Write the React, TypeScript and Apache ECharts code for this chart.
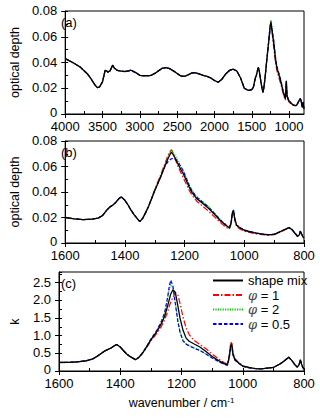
import React, { useEffect, useRef } from 'react';
import * as echarts from 'echarts';

// ---------- data ----------
const wnHigh = [4000, 3900, 3800, 3700, 3650, 3600, 3570, 3540, 3500, 3480, 3465, 3445, 3430, 3400, 3380, 3365, 3340, 3300, 3250, 3200, 3150, 3120, 3100, 3050, 3000, 2950, 2900, 2850, 2800, 2750, 2700, 2650, 2600, 2550, 2500, 2450, 2400, 2350, 2300, 2250, 2200, 2150, 2100, 2050, 2000, 1950, 1900, 1850, 1800, 1750, 1700, 1650];
const odHigh = [0.043, 0.040, 0.0365, 0.031, 0.027, 0.0225, 0.0205, 0.021, 0.025, 0.030, 0.034, 0.0335, 0.0325, 0.0335, 0.036, 0.038, 0.0355, 0.0338, 0.0333, 0.033, 0.0335, 0.034, 0.0335, 0.032, 0.030, 0.0297, 0.0297, 0.030, 0.0315, 0.0335, 0.0355, 0.036, 0.0352, 0.0335, 0.0315, 0.0295, 0.0293, 0.0305, 0.032, 0.032, 0.031, 0.030, 0.0292, 0.028, 0.026, 0.0247, 0.027, 0.031, 0.0338, 0.0348, 0.0334, 0.028];

const wnLow = [1600, 1570, 1540, 1510, 1490, 1475, 1460, 1450, 1440, 1430, 1420, 1412, 1400, 1390, 1380, 1370, 1360, 1350, 1340, 1330, 1320, 1300, 1280, 1265, 1255, 1245, 1240, 1235, 1228, 1220, 1212, 1205, 1195, 1185, 1175, 1160, 1140, 1120, 1100, 1080, 1060, 1050, 1044, 1040, 1036, 1032, 1026, 1015, 1000, 980, 960, 940, 920, 900, 880, 865, 850, 840, 830, 822, 816, 812, 808, 804, 800];

const odMix = [0.0200, 0.0190, 0.0183, 0.0187, 0.0195, 0.0215, 0.0260, 0.0283, 0.0298, 0.0320, 0.0348, 0.0362, 0.0335, 0.0300, 0.0260, 0.0225, 0.0195, 0.0168, 0.0195, 0.0240, 0.0290, 0.0410, 0.0520, 0.0610, 0.0665, 0.0712, 0.0700, 0.0680, 0.0650, 0.0610, 0.0575, 0.0545, 0.0495, 0.0440, 0.0395, 0.0350, 0.0312, 0.0272, 0.0225, 0.0175, 0.0135, 0.0118, 0.0160, 0.0235, 0.0255, 0.0190, 0.0140, 0.0120, 0.0100, 0.0088, 0.0077, 0.0070, 0.0064, 0.0068, 0.0088, 0.0105, 0.0120, 0.0105, 0.0075, 0.0052, 0.0062, 0.0092, 0.0070, 0.0050, 0.0038];
const odPhi1 = [0.0201, 0.0191, 0.0184, 0.0188, 0.0196, 0.0216, 0.0261, 0.0284, 0.0299, 0.0321, 0.0349, 0.0363, 0.0336, 0.0300, 0.0260, 0.0224, 0.0194, 0.0167, 0.0196, 0.0243, 0.0295, 0.0420, 0.0535, 0.0630, 0.0690, 0.0732, 0.0715, 0.0680, 0.0635, 0.0590, 0.0550, 0.0515, 0.0465, 0.0415, 0.0375, 0.0330, 0.0290, 0.0250, 0.0205, 0.0160, 0.0122, 0.0108, 0.0150, 0.0225, 0.0245, 0.0180, 0.0130, 0.0110, 0.0092, 0.0082, 0.0072, 0.0066, 0.0062, 0.0066, 0.0085, 0.0102, 0.0117, 0.0102, 0.0073, 0.0051, 0.0061, 0.0090, 0.0068, 0.0049, 0.0037];
const odPhi2 = [0.0200, 0.0190, 0.0183, 0.0187, 0.0195, 0.0215, 0.0260, 0.0283, 0.0298, 0.0320, 0.0348, 0.0362, 0.0335, 0.0300, 0.0260, 0.0225, 0.0195, 0.0168, 0.0195, 0.0241, 0.0292, 0.0415, 0.0525, 0.0618, 0.0675, 0.0728, 0.0722, 0.0700, 0.0670, 0.0632, 0.0598, 0.0568, 0.0515, 0.0460, 0.0412, 0.0365, 0.0325, 0.0285, 0.0235, 0.0182, 0.0140, 0.0122, 0.0162, 0.0240, 0.0258, 0.0192, 0.0142, 0.0122, 0.0102, 0.0090, 0.0078, 0.0071, 0.0065, 0.0069, 0.0089, 0.0106, 0.0121, 0.0106, 0.0076, 0.0053, 0.0063, 0.0093, 0.0071, 0.0051, 0.0039];
const odPhi05 = [0.0200, 0.0190, 0.0183, 0.0187, 0.0195, 0.0215, 0.0260, 0.0283, 0.0298, 0.0320, 0.0348, 0.0362, 0.0335, 0.0300, 0.0260, 0.0225, 0.0195, 0.0168, 0.0195, 0.0241, 0.0291, 0.0412, 0.0520, 0.0605, 0.0640, 0.0660, 0.0663, 0.0660, 0.0650, 0.0628, 0.0598, 0.0568, 0.0512, 0.0455, 0.0408, 0.0362, 0.0322, 0.0283, 0.0233, 0.0180, 0.0139, 0.0121, 0.0162, 0.0240, 0.0258, 0.0192, 0.0142, 0.0122, 0.0102, 0.0090, 0.0078, 0.0071, 0.0065, 0.0069, 0.0089, 0.0106, 0.0121, 0.0106, 0.0078, 0.0058, 0.0066, 0.0095, 0.0072, 0.0052, 0.0040];

const kMix = [0.24, 0.245, 0.26, 0.29, 0.34, 0.42, 0.51, 0.57, 0.61, 0.65, 0.71, 0.75, 0.68, 0.58, 0.49, 0.42, 0.37, 0.32, 0.38, 0.48, 0.60, 0.88, 1.12, 1.35, 1.55, 1.85, 2.02, 2.18, 2.30, 2.22, 1.85, 1.50, 1.15, 0.93, 0.84, 0.77, 0.68, 0.55, 0.41, 0.30, 0.21, 0.18, 0.40, 0.68, 0.76, 0.48, 0.33, 0.24, 0.14, 0.10, 0.07, 0.06, 0.08, 0.10, 0.19, 0.28, 0.39, 0.30, 0.18, 0.11, 0.18, 0.31, 0.20, 0.10, 0.05];
const kPhi1 = [0.24, 0.245, 0.26, 0.29, 0.34, 0.42, 0.51, 0.57, 0.61, 0.65, 0.71, 0.75, 0.68, 0.58, 0.49, 0.42, 0.37, 0.32, 0.37, 0.47, 0.58, 0.85, 1.07, 1.27, 1.45, 1.68, 1.83, 1.95, 2.08, 2.22, 2.15, 1.92, 1.52, 1.22, 1.03, 0.87, 0.75, 0.63, 0.48, 0.35, 0.23, 0.19, 0.45, 0.75, 0.83, 0.52, 0.36, 0.25, 0.15, 0.10, 0.07, 0.06, 0.08, 0.10, 0.19, 0.28, 0.39, 0.30, 0.18, 0.11, 0.18, 0.32, 0.20, 0.10, 0.05];
const kPhi2 = [0.24, 0.245, 0.26, 0.29, 0.34, 0.42, 0.51, 0.57, 0.61, 0.65, 0.71, 0.75, 0.68, 0.58, 0.49, 0.42, 0.37, 0.32, 0.38, 0.48, 0.61, 0.90, 1.15, 1.40, 1.62, 2.05, 2.32, 2.45, 2.35, 1.92, 1.45, 1.12, 0.87, 0.77, 0.72, 0.66, 0.58, 0.48, 0.37, 0.27, 0.19, 0.16, 0.38, 0.66, 0.74, 0.46, 0.31, 0.23, 0.13, 0.09, 0.07, 0.06, 0.08, 0.10, 0.19, 0.28, 0.39, 0.30, 0.18, 0.11, 0.18, 0.31, 0.20, 0.10, 0.05];
const kPhi05 = [0.24, 0.245, 0.26, 0.29, 0.34, 0.42, 0.51, 0.57, 0.61, 0.65, 0.71, 0.75, 0.68, 0.58, 0.49, 0.42, 0.37, 0.32, 0.38, 0.48, 0.61, 0.90, 1.16, 1.42, 1.65, 2.10, 2.40, 2.57, 2.40, 1.90, 1.40, 1.10, 0.85, 0.76, 0.71, 0.65, 0.58, 0.48, 0.37, 0.27, 0.19, 0.16, 0.38, 0.66, 0.74, 0.46, 0.31, 0.23, 0.13, 0.09, 0.07, 0.06, 0.08, 0.10, 0.19, 0.28, 0.39, 0.30, 0.18, 0.11, 0.18, 0.31, 0.20, 0.10, 0.05];

const seriesNames = ['shape mix', 'φ = 1', 'φ = 2', 'φ = 0.5'];
const xTicksA = [4000, 3500, 3000, 2500, 2000, 1500, 1000];
const xMinorTicksA = [4000, 3750, 3500, 3250, 3000, 2750, 2500, 2250, 2000, 1750, 1500, 1250, 1000];
const panelLabels = ['(a)', '(b)', '(c)'];

const FONT = 'Liberation Sans, Arial, sans-serif';
const BLACK = '#000';

const lineStyles: any[] = [
  { color: '#000000', type: 'solid', width: 1.3 },
  { color: '#ff0000', type: [6, 2, 1.5, 2], width: 1.2 },
  { color: '#00cc00', type: [1.2, 1.2], width: 1.2 },
  { color: '#0000ff', type: [3.5, 2], width: 1.2 },
];

const grids = [
  { left: 58, top: 11, width: 246, height: 103 },
  { left: 58, top: 141, width: 246, height: 102 },
  { left: 58, top: 272, width: 246, height: 99 },
];

function zip(xs: number[], ys: number[]) {
  return xs.map((x, i) => [x, ys[i]]);
}

export default function App() {
  const ref = useRef<HTMLDivElement>(null);

  useEffect(() => {
    if (!ref.current) return;
    const chart = echarts.init(ref.current, undefined, { renderer: 'svg' });

    const labelStyle = { color: BLACK, fontSize: 13, fontFamily: FONT };
    const axisLine = { show: true, onZero: false, lineStyle: { color: BLACK, width: 1 } };
    const tickLine = { color: BLACK, width: 1 };
    const nameStyle = { fontSize: 12.5, fontFamily: FONT, color: BLACK };
    const xFmt = (v: number) => String(v);
    const yRich = {
      z: { color: BLACK, fontSize: 13, fontFamily: FONT, lineHeight: 12, padding: [0, 0, 4, 0] },
      n: { color: BLACK, fontSize: 13, fontFamily: FONT, lineHeight: 12, padding: [0, 0, 1, 0] },
    };

    const xAxes: any[] = [];
    const yAxes: any[] = [];
    // panel a x
    xAxes.push({
      type: 'value', gridIndex: 0, inverse: true, min: 800, max: 4000,
      axisLine,
      axisTick: { show: true, inside: false, length: 4, customValues: xTicksA, lineStyle: tickLine },
      axisLabel: { ...labelStyle, margin: 6, lineHeight: 13, customValues: xTicksA, formatter: xFmt },
      splitLine: { show: false },
    });
    xAxes.push({
      type: 'value', gridIndex: 0, inverse: true, min: 800, max: 4000, position: 'bottom',
      axisLine: { show: false },
      axisTick: { show: true, inside: true, length: 3, customValues: xMinorTicksA, lineStyle: tickLine },
      axisLabel: { show: false },
      splitLine: { show: false },
    });
    // panels b, c x
    for (const gi of [1, 2]) {
      xAxes.push({
        type: 'value', gridIndex: gi, inverse: true, min: 800, max: 1600, interval: 200,
        axisLine,
        axisTick: { show: true, inside: false, length: 4, lineStyle: tickLine },
        axisLabel: { ...labelStyle, margin: 6, lineHeight: 13, formatter: xFmt },
        splitLine: { show: false },
        ...(gi === 2
          ? {
              name: '{a|wavenumber / cm}{s|-1}',
              nameLocation: 'middle',
              nameGap: 25,
              nameTextStyle: {
                rich: {
                  a: { fontSize: 12.5, fontFamily: FONT, color: BLACK, lineHeight: 14 },
                  s: { fontSize: 8, fontFamily: FONT, color: BLACK, verticalAlign: 'top', lineHeight: 14 },
                },
              },
            }
          : {}),
      });
      xAxes.push({
        type: 'value', gridIndex: gi, inverse: true, min: 800, max: 1600, interval: 100, position: 'bottom',
        axisLine: { show: false },
        axisTick: { show: true, inside: true, length: 3, lineStyle: tickLine },
        axisLabel: { show: false },
        splitLine: { show: false },
      });
    }
    // y axes
    for (const gi of [0, 1]) {
      yAxes.push({
        type: 'value', gridIndex: gi, min: 0, max: 0.08, interval: 0.02,
        name: 'optical depth', nameLocation: 'middle', nameGap: 38,
        nameTextStyle: nameStyle,
        axisLine,
        axisTick: { show: true, inside: false, length: 4, lineStyle: tickLine },
        axisLabel: {
          ...labelStyle, margin: 8, rich: yRich,
          formatter: (v: number) => (v === 0 ? '{z|0}' : '{n|' + v.toFixed(2) + '}'),
        },
        splitLine: { show: false },
      });
      yAxes.push({
        type: 'value', gridIndex: gi, min: 0, max: 0.08, interval: 0.01, position: 'left',
        axisLine: { show: false },
        axisTick: { show: true, inside: true, length: 3, lineStyle: tickLine },
        axisLabel: { show: false },
        splitLine: { show: false },
      });
    }
    yAxes.push({
      type: 'value', gridIndex: 2, min: 0, max: 2.8, interval: 0.5,
      name: 'k', nameLocation: 'middle', nameGap: 38,
      nameTextStyle: nameStyle,
      axisLine,
      axisTick: { show: true, inside: false, length: 4, lineStyle: tickLine },
      axisLabel: {
        ...labelStyle, margin: 8, showMaxLabel: false, rich: yRich,
        formatter: (v: number) => (v === 0 ? '{z|0}' : v > 2.6 ? '' : '{n|' + v.toFixed(1) + '}'),
      },
      splitLine: { show: false },
    });
    yAxes.push({
      type: 'value', gridIndex: 2, min: 0, max: 2.8, interval: 0.25, position: 'left',
      axisLine: { show: false },
      axisTick: { show: true, inside: true, length: 3, lineStyle: tickLine },
      axisLabel: { show: false },
      splitLine: { show: false },
    });

    const odLow = [odMix, odPhi1, odPhi2, odPhi05];
    const kLow = [kMix, kPhi1, kPhi2, kPhi05];
    const order = [1, 2, 3, 0]; // draw black last (on top)
    const series: any[] = [];
    for (const s of order) {
      const base = {
        type: 'line', name: seriesNames[s], showSymbol: false, symbol: 'none',
        lineStyle: lineStyles[s], itemStyle: { color: lineStyles[s].color },
        silent: true, z: s === 0 ? 5 : 3,
      };
      series.push({ ...base, xAxisIndex: 0, yAxisIndex: 0, data: zip(wnHigh.concat(wnLow), odHigh.concat(odLow[s])) });
      series.push({ ...base, xAxisIndex: 2, yAxisIndex: 2, data: zip(wnLow, odLow[s]) });
      series.push({ ...base, xAxisIndex: 4, yAxisIndex: 4, data: zip(wnLow, kLow[s]) });
    }

    chart.setOption({
      animation: false,
      backgroundColor: '#fff',
      grid: grids.map((g) => ({ ...g, show: true, borderColor: BLACK, borderWidth: 1, backgroundColor: 'transparent' })),
      xAxis: xAxes,
      yAxis: yAxes,
      legend: {
        data: seriesNames,
        orient: 'vertical',
        left: 212,
        top: 274,
        itemWidth: 30,
        itemHeight: 8,
        itemGap: 1.5,
        padding: 0,
        selectedMode: false,
        itemStyle: { opacity: 0 },
        formatter: (name: string) => (name.startsWith('φ') ? '{i|φ}' + name.slice(1) : name),
        textStyle: {
          fontSize: 13, fontFamily: FONT, color: BLACK,
          rich: { i: { fontSize: 13, fontStyle: 'italic', fontFamily: 'DejaVu Serif, serif', color: '#444' } },
        },
      },
      graphic: panelLabels.map((t, i) => ({
        type: 'text',
        left: 61,
        top: grids[i].top + 5,
        style: { text: t, fontSize: 13, fontFamily: FONT, fill: BLACK },
      })),
      series,
    });

    return () => chart.dispose();
  }, []);

  return (
    <div
      ref={ref}
      style={{ position: 'fixed', left: 0, top: 0, width: 320, height: 419, background: '#fff' }}
    />
  );
}
